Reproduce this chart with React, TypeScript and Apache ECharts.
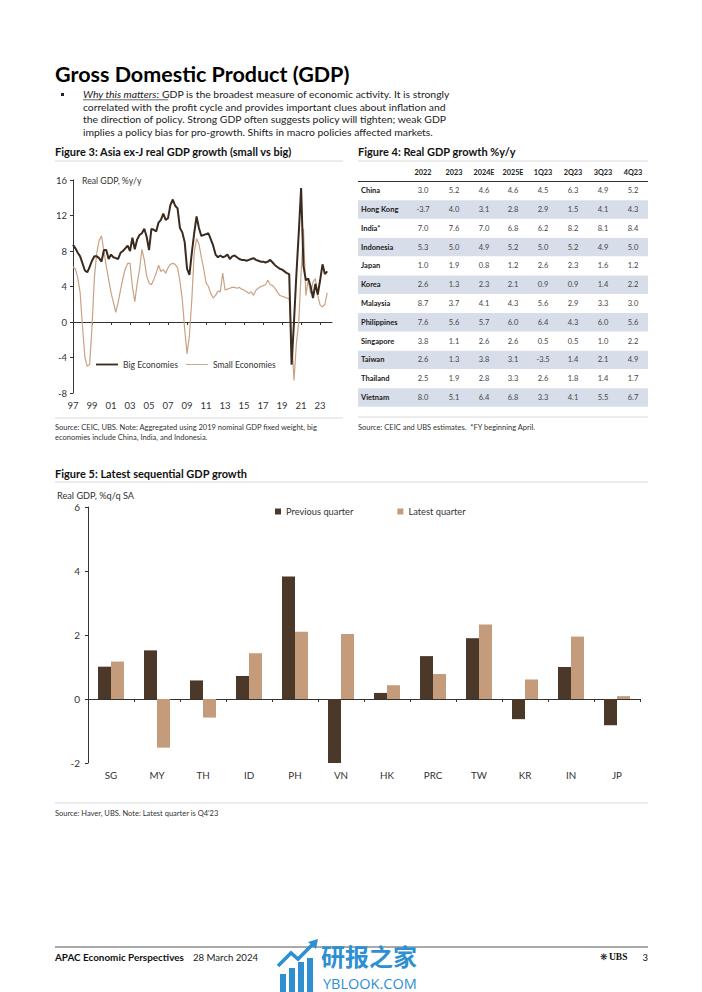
import React, { useEffect, useRef } from "react";
import * as echarts from "echarts";

// ---------- Figure 3 data (quarterly, 1997Q1 .. 2023Q4) ----------
const bigEconomies = [
  8.7, 8.3, 7.8, 7.4, 6.6, 5.8, 5.6, 6.2, 6.9, 7.4, 7.4, 7.2,
  6.8, 8.1, 8.1, 7.1, 7.6, 7.3, 7.2, 7.1, 7.8, 8.0, 8.3, 8.6,
  8.0, 9.5, 8.2, 9.3, 9.8, 10.0, 10.5, 9.6, 8.1, 10.5, 10.4, 10.2,
  11.2, 11.5, 12.2, 11.5, 11.7, 13.2, 13.8, 13.1, 12.8, 10.6, 10.1, 9.0,
  6.0, 5.3, 7.8, 10.0,
  11.9, 10.6, 9.7, 9.8, 9.9, 10.0, 9.3, 8.6,
  7.6, 7.3, 7.5, 7.3, 7.4, 7.6, 7.1, 7.4, 7.5, 7.3, 7.1, 7.0, 7.0, 6.9, 7.0, 7.1,
  7.2, 7.0, 6.9, 6.8, 6.8, 6.7, 6.8, 7.0, 6.7, 6.4, 6.2, 6.0, 5.9, 5.7, 5.5, 5.4,
  -4.8, 0.0, 5.3, 10.0, 15.1, 6.3, 4.7, 4.9, 4.0, 2.7, 4.3, 3.1, 4.7, 6.5, 5.4, 5.7,
];
const smallEconomies = [
  6.2, 6.0, 5.0, 3.3, -0.5, -4.0, -5.0, -4.8, -0.5, 5.0, 7.8, 9.2,
  9.7, 8.0, 6.3, 4.8, 3.3, 2.2, 1.1, 2.2, 3.6, 4.9, 6.0, 6.6,
  6.6, 4.0, 2.3, 4.3, 5.9, 8.2, 7.0, 5.2, 4.4, 4.2, 4.8, 5.5,
  6.4, 5.7, 5.9, 5.5, 6.1, 6.5, 6.6, 6.5, 6.1, 4.6, 2.5, -0.8,
  -3.6, -1.5, 2.5, 7.8,
  9.4, 8.8, 7.3, 6.0, 4.4, 4.0, 3.2, 2.7, 3.0, 3.5, 3.4, 5.5,
  3.6, 3.7, 3.8, 3.9, 3.9, 3.8, 3.9, 3.7, 3.6, 3.4, 3.2, 3.4,
  3.0, 3.6, 3.8, 4.0, 4.1, 4.2, 4.7, 4.2, 4.1, 3.8, 3.4, 3.0, 2.9, 2.8, 2.7, 2.6,
  -1.5, -6.6, -2.5, 0.0, 5.5, 10.5, 3.0, 4.8, 3.2, 4.5, 4.9, 3.0, 1.9, 1.7, 2.0, 3.3,
];
const fig3YearLabels = ["97", "99", "01", "03", "05", "07", "09", "11", "13", "15", "17", "19", "21", "23"];

// ---------- Figure 4 table ----------
const tableColumns = ["2022", "2023", "2024E", "2025E", "1Q23", "2Q23", "3Q23", "4Q23"];
const tableRowNames = ["China", "Hong Kong", "India*", "Indonesia", "Japan", "Korea", "Malaysia", "Philippines", "Singapore", "Taiwan", "Thailand", "Vietnam"];
const rowChina = [3.0, 5.2, 4.6, 4.6, 4.5, 6.3, 4.9, 5.2];
const rowHongKong = [-3.7, 4.0, 3.1, 2.8, 2.9, 1.5, 4.1, 4.3];
const rowIndia = [7.0, 7.6, 7.0, 6.8, 6.2, 8.2, 8.1, 8.4];
const rowIndonesia = [5.3, 5.0, 4.9, 5.2, 5.0, 5.2, 4.9, 5.0];
const rowJapan = [1.0, 1.9, 0.8, 1.2, 2.6, 2.3, 1.6, 1.2];
const rowKorea = [2.6, 1.3, 2.3, 2.1, 0.9, 0.9, 1.4, 2.2];
const rowMalaysia = [8.7, 3.7, 4.1, 4.3, 5.6, 2.9, 3.3, 3.0];
const rowPhilippines = [7.6, 5.6, 5.7, 6.0, 6.4, 4.3, 6.0, 5.6];
const rowSingapore = [3.8, 1.1, 2.6, 2.6, 0.5, 0.5, 1.0, 2.2];
const rowTaiwan = [2.6, 1.3, 3.8, 3.1, -3.5, 1.4, 2.1, 4.9];
const rowThailand = [2.5, 1.9, 2.8, 3.3, 2.6, 1.8, 1.4, 1.7];
const rowVietnam = [8.0, 5.1, 6.4, 6.8, 3.3, 4.1, 5.5, 6.7];
const tableValues = [rowChina, rowHongKong, rowIndia, rowIndonesia, rowJapan, rowKorea, rowMalaysia, rowPhilippines, rowSingapore, rowTaiwan, rowThailand, rowVietnam];

// ---------- Figure 5 data ----------
const fig5Countries = ["SG", "MY", "TH", "ID", "PH", "VN", "HK", "PRC", "TW", "KR", "IN", "JP"];
const previousQuarter = [1.01, 1.52, 0.58, 0.72, 3.83, -2.01, 0.19, 1.34, 1.9, -0.63, 1.0, -0.82];
const latestQuarter = [1.17, -1.52, -0.58, 1.43, 2.1, 2.03, 0.43, 0.78, 2.33, 0.61, 1.95, 0.09];

// ---------- styling ----------
const FONT = "Lato";
const DARK = "#3b2a1e";
const TAN = "#c9a285";
const BAR_DARK = "#4b3829";
const BAR_TAN = "#c49b7b";
const RULE = "#d9d9d9";
// legend line icons: invisible corner points fix the box, the bar in the middle is the line
const THICK_LINE_ICON = "path://M0,0L0,0M0,5H24V7H0ZM24,12L24,12";
const THIN_LINE_ICON = "path://M0,0L0,0M0,5.5H24V6.5H0ZM24,12L24,12";

type TOpt = { size?: number; weight?: string; fill?: string; align?: string; style?: string; family?: string; sx?: number };
const T = (x: number, y: number, text: string, o: TOpt = {}) => ({
  type: "text",
  x,
  y,
  scaleX: o.sx || 1,
  silent: true,
  style: {
    text,
    fill: o.fill || "#222",
    fontSize: o.size || 10,
    fontFamily: o.family || FONT,
    fontWeight: o.weight || "normal",
    fontStyle: o.style || "normal",
    textAlign: o.align || "left",
    textVerticalAlign: "middle",
    verticalAlign: "middle",
  },
});
const L = (x1: number, y1: number, x2: number, y2: number, stroke = RULE, w = 1) => ({
  type: "line",
  silent: true,
  shape: { x1, y1, x2, y2 },
  style: { stroke, lineWidth: w },
});
const R = (x: number, y: number, width: number, height: number, fill: string) => ({
  type: "rect",
  silent: true,
  shape: { x, y, width, height },
  style: { fill },
});

function buildGraphic() {
  const g: any[] = [];
  // heading
  g.push(T(55, 74, "Gross Domestic Product (GDP)", { size: 21.5, weight: "bold", fill: "#000" }));
  g.push(R(61, 93, 3, 3, "#222"));
  const bodySize = 10.4;
  g.push({
    type: "text",
    x: 83,
    y: 94,
    silent: true,
    style: {
      text: "{i|Why this matters:} GDP is the broadest measure of economic activity. It is strongly",
      fill: "#222",
      fontSize: bodySize,
      fontFamily: FONT,
      textVerticalAlign: "middle",
      verticalAlign: "middle",
      rich: { i: { fontStyle: "italic", fontSize: bodySize, fontFamily: FONT, fill: "#222" } },
    },
  });
  g.push(L(83, 99.8, 168, 99.8, "#222", 0.7));
  g.push(T(83, 106.7, "correlated with the profit cycle and provides important clues about inflation and", { size: bodySize }));
  g.push(T(83, 119.4, "the direction of policy. Strong GDP often suggests policy will tighten; weak GDP", { size: bodySize }));
  g.push(T(83, 132, "implies a policy bias for pro-growth. Shifts in macro policies affected markets.", { size: bodySize }));

  // figure titles & rules
  g.push(T(55, 151, "Figure 3: Asia ex-J real GDP growth (small vs big)", { size: 11, weight: "bold", fill: "#111" }));
  g.push(L(55, 161, 343, 161));
  g.push(T(358, 151, "Figure 4: Real GDP growth %y/y", { size: 11, weight: "bold", fill: "#111" }));
  g.push(L(358, 161, 648, 161));
  g.push(T(82, 180, "Real GDP, %y/y", { size: 8.7, fill: "#333" }));
  g.push(L(55, 418, 343, 418));
  g.push(T(55, 427, "Source: CEIC, UBS. Note: Aggregated using 2019 nominal GDP fixed weight, big", { size: 7.5, fill: "#333" }));
  g.push(T(55, 437.5, "economies include China, India, and Indonesia.", { size: 7.5, fill: "#333" }));

  // table
  const colX = [423, 454, 484, 513, 543, 573, 603, 633];
  tableColumns.forEach((c, j) => g.push(T(colX[j], 172, c, { size: 7.3, weight: "bold", align: "center", fill: "#222" })));
  tableRowNames.forEach((name, r) => {
    const cy = 190.7 + r * 18.8;
    if (r % 2 === 1) g.push(R(358, cy - 9.2, 290, 18.4, "#d8dee9"));
    g.push(T(361, cy, name, { size: 7.5, weight: "bold", fill: "#1a1a1a" }));
    tableValues[r].forEach((v, j) => g.push(T(colX[j], cy, v.toFixed(1), { size: 7.5, align: "center", fill: "#444" })));
  });
  g.push(L(358, 181.5, 648, 181.5, "#333", 1.2));
  g.push(L(358, 417, 648, 417));
  g.push(T(358, 427, "Source: CEIC and UBS estimates.  *FY beginning April.", { size: 7.5, fill: "#333" }));

  // figure 5
  g.push(T(55, 473, "Figure 5: Latest sequential GDP growth", { size: 11, weight: "bold", fill: "#111" }));
  g.push(L(55, 482, 648, 482));
  g.push(T(57, 495, "Real GDP, %q/q SA", { size: 9.2, fill: "#333" }));
  g.push(L(55, 803, 648, 803));
  g.push(T(55, 813, "Source: Haver, UBS. Note: Latest quarter is Q4'23", { size: 7.5, fill: "#333" }));

  // footer
  g.push(L(55, 947, 648, 947, "#555", 1));
  g.push(T(55, 957, "APAC Economic Perspectives", { size: 9.9, weight: "bold", fill: "#111" }));
  g.push(T(193, 957, "28 March 2024", { size: 9.6, fill: "#222" }));
  g.push(T(600, 957, "❋", { size: 9, family: "DejaVu Sans", fill: "#111" }));
  g.push(T(609, 957, "UBS", { size: 9.5, weight: "bold", family: "Liberation Serif", fill: "#111" }));
  g.push(T(648, 957, "3", { size: 9.5, align: "right", fill: "#111" }));

  // watermark
  const WM = "#2f8fd3";
  g.push(R(280, 974, 6, 18, WM));
  g.push(R(289, 968, 6, 24, WM));
  g.push(R(298, 962, 6, 30, WM));
  g.push(R(307, 958, 6, 34, WM));
  g.push({ type: "polyline", silent: true, shape: { points: [[278, 966], [291, 953], [298, 959], [313, 944]] }, style: { stroke: WM, lineWidth: 3.5, fill: null } });
  g.push({ type: "polygon", silent: true, shape: { points: [[308, 942], [318, 939], [316, 949]] }, style: { fill: WM } });
  g.push(T(321, 955, "研报之家", { size: 24, weight: "bold", family: "Noto Sans CJK SC", fill: WM }));
  g.push(T(323, 983, "YBLOOK.COM", { size: 14.5, family: "Open Sans", fill: WM }));
  return g;
}

const tickPositions = fig3YearLabels.map((_, k) => k * 8);

export default function App() {
  const ref = useRef<HTMLDivElement>(null);
  useEffect(() => {
    if (!ref.current) return;
    const chart = echarts.init(ref.current, null, { renderer: "svg" });
    const axisText = { fontFamily: FONT, fontSize: 9.5, color: "#333" };
    chart.setOption({
      animation: false,
      backgroundColor: "#ffffff",
      textStyle: { fontFamily: FONT },
      grid: [
        { left: 73, top: 180, width: 259, height: 213 },
        { left: 88, top: 507, width: 552, height: 256 },
      ],
      xAxis: [
        {
          gridIndex: 0,
          type: "value",
          min: 0,
          max: 109,
          axisLine: { onZero: true, lineStyle: { color: "#333", width: 1 } },
          axisTick: { show: true, customValues: tickPositions, length: 3, lineStyle: { color: "#333" } },
          axisLabel: {
            ...axisText,
            customValues: tickPositions,
            margin: 7,
            formatter: (v: number) => fig3YearLabels[Math.round(v / 8)] ?? "",
          },
          splitLine: { show: false },
        },
        {
          gridIndex: 1,
          type: "category",
          data: fig5Countries,
          axisLine: { onZero: true, lineStyle: { color: "#333", width: 1 } },
          axisTick: { show: true, length: 3, lineStyle: { color: "#333" } },
          axisLabel: { ...axisText, fontSize: 9.8, margin: 7, interval: 0 },
          splitLine: { show: false },
        },
      ],
      yAxis: [
        {
          gridIndex: 0,
          type: "value",
          min: -8,
          max: 16,
          interval: 4,
          axisLine: { show: true, onZero: false, lineStyle: { color: "#333" } },
          axisTick: { show: true, length: 3, lineStyle: { color: "#333" } },
          axisLabel: { ...axisText, margin: 6 },
          splitLine: { show: false },
        },
        {
          gridIndex: 1,
          type: "value",
          min: -2,
          max: 6,
          interval: 2,
          axisLine: { show: true, onZero: false, lineStyle: { color: "#333" } },
          axisTick: { show: true, length: 3, lineStyle: { color: "#333" } },
          axisLabel: { ...axisText, fontSize: 10, margin: 8 },
          splitLine: { show: false },
        },
      ],
      legend: [
        {
          data: [
            { name: "Big Economies", icon: THICK_LINE_ICON },
            { name: "Small Economies", icon: THIN_LINE_ICON },
          ],
          left: 91,
          top: 354,
          padding: 5,
          itemWidth: 22,
          itemHeight: 12,
          itemGap: 8,
          textStyle: { ...axisText, fontSize: 8.6 },
        },
        {
          data: ["Previous quarter", "Latest quarter"],
          left: 270,
          top: 502,
          padding: 5,
          icon: "rect",
          itemWidth: 6,
          itemHeight: 6,
          itemGap: 44,
          textStyle: { ...axisText, fontSize: 9.3 },
        },
      ],
      series: [
        {
          name: "Big Economies",
          type: "line",
          xAxisIndex: 0,
          yAxisIndex: 0,
          symbol: "none",
          showSymbol: false,
          data: bigEconomies.map((v, i) => [i, v]),
          lineStyle: { color: DARK, width: 2 },
          itemStyle: { color: DARK },
          z: 3,
        },
        {
          name: "Small Economies",
          type: "line",
          xAxisIndex: 0,
          yAxisIndex: 0,
          symbol: "none",
          showSymbol: false,
          data: smallEconomies.map((v, i) => [i, v]),
          lineStyle: { color: TAN, width: 1.2 },
          itemStyle: { color: TAN },
          z: 2,
        },
        {
          name: "Previous quarter",
          type: "bar",
          xAxisIndex: 1,
          yAxisIndex: 1,
          data: previousQuarter,
          barWidth: 13,
          barGap: "0%",
          itemStyle: { color: BAR_DARK },
        },
        {
          name: "Latest quarter",
          type: "bar",
          xAxisIndex: 1,
          yAxisIndex: 1,
          data: latestQuarter,
          barWidth: 13,
          barGap: "0%",
          itemStyle: { color: BAR_TAN },
        },
      ],
      graphic: buildGraphic(),
    });
    return () => chart.dispose();
  }, []);
  return (
    <div
      ref={ref}
      style={{ position: "absolute", left: 0, top: 0, width: 702, height: 992, background: "#fff" }}
    />
  );
}
